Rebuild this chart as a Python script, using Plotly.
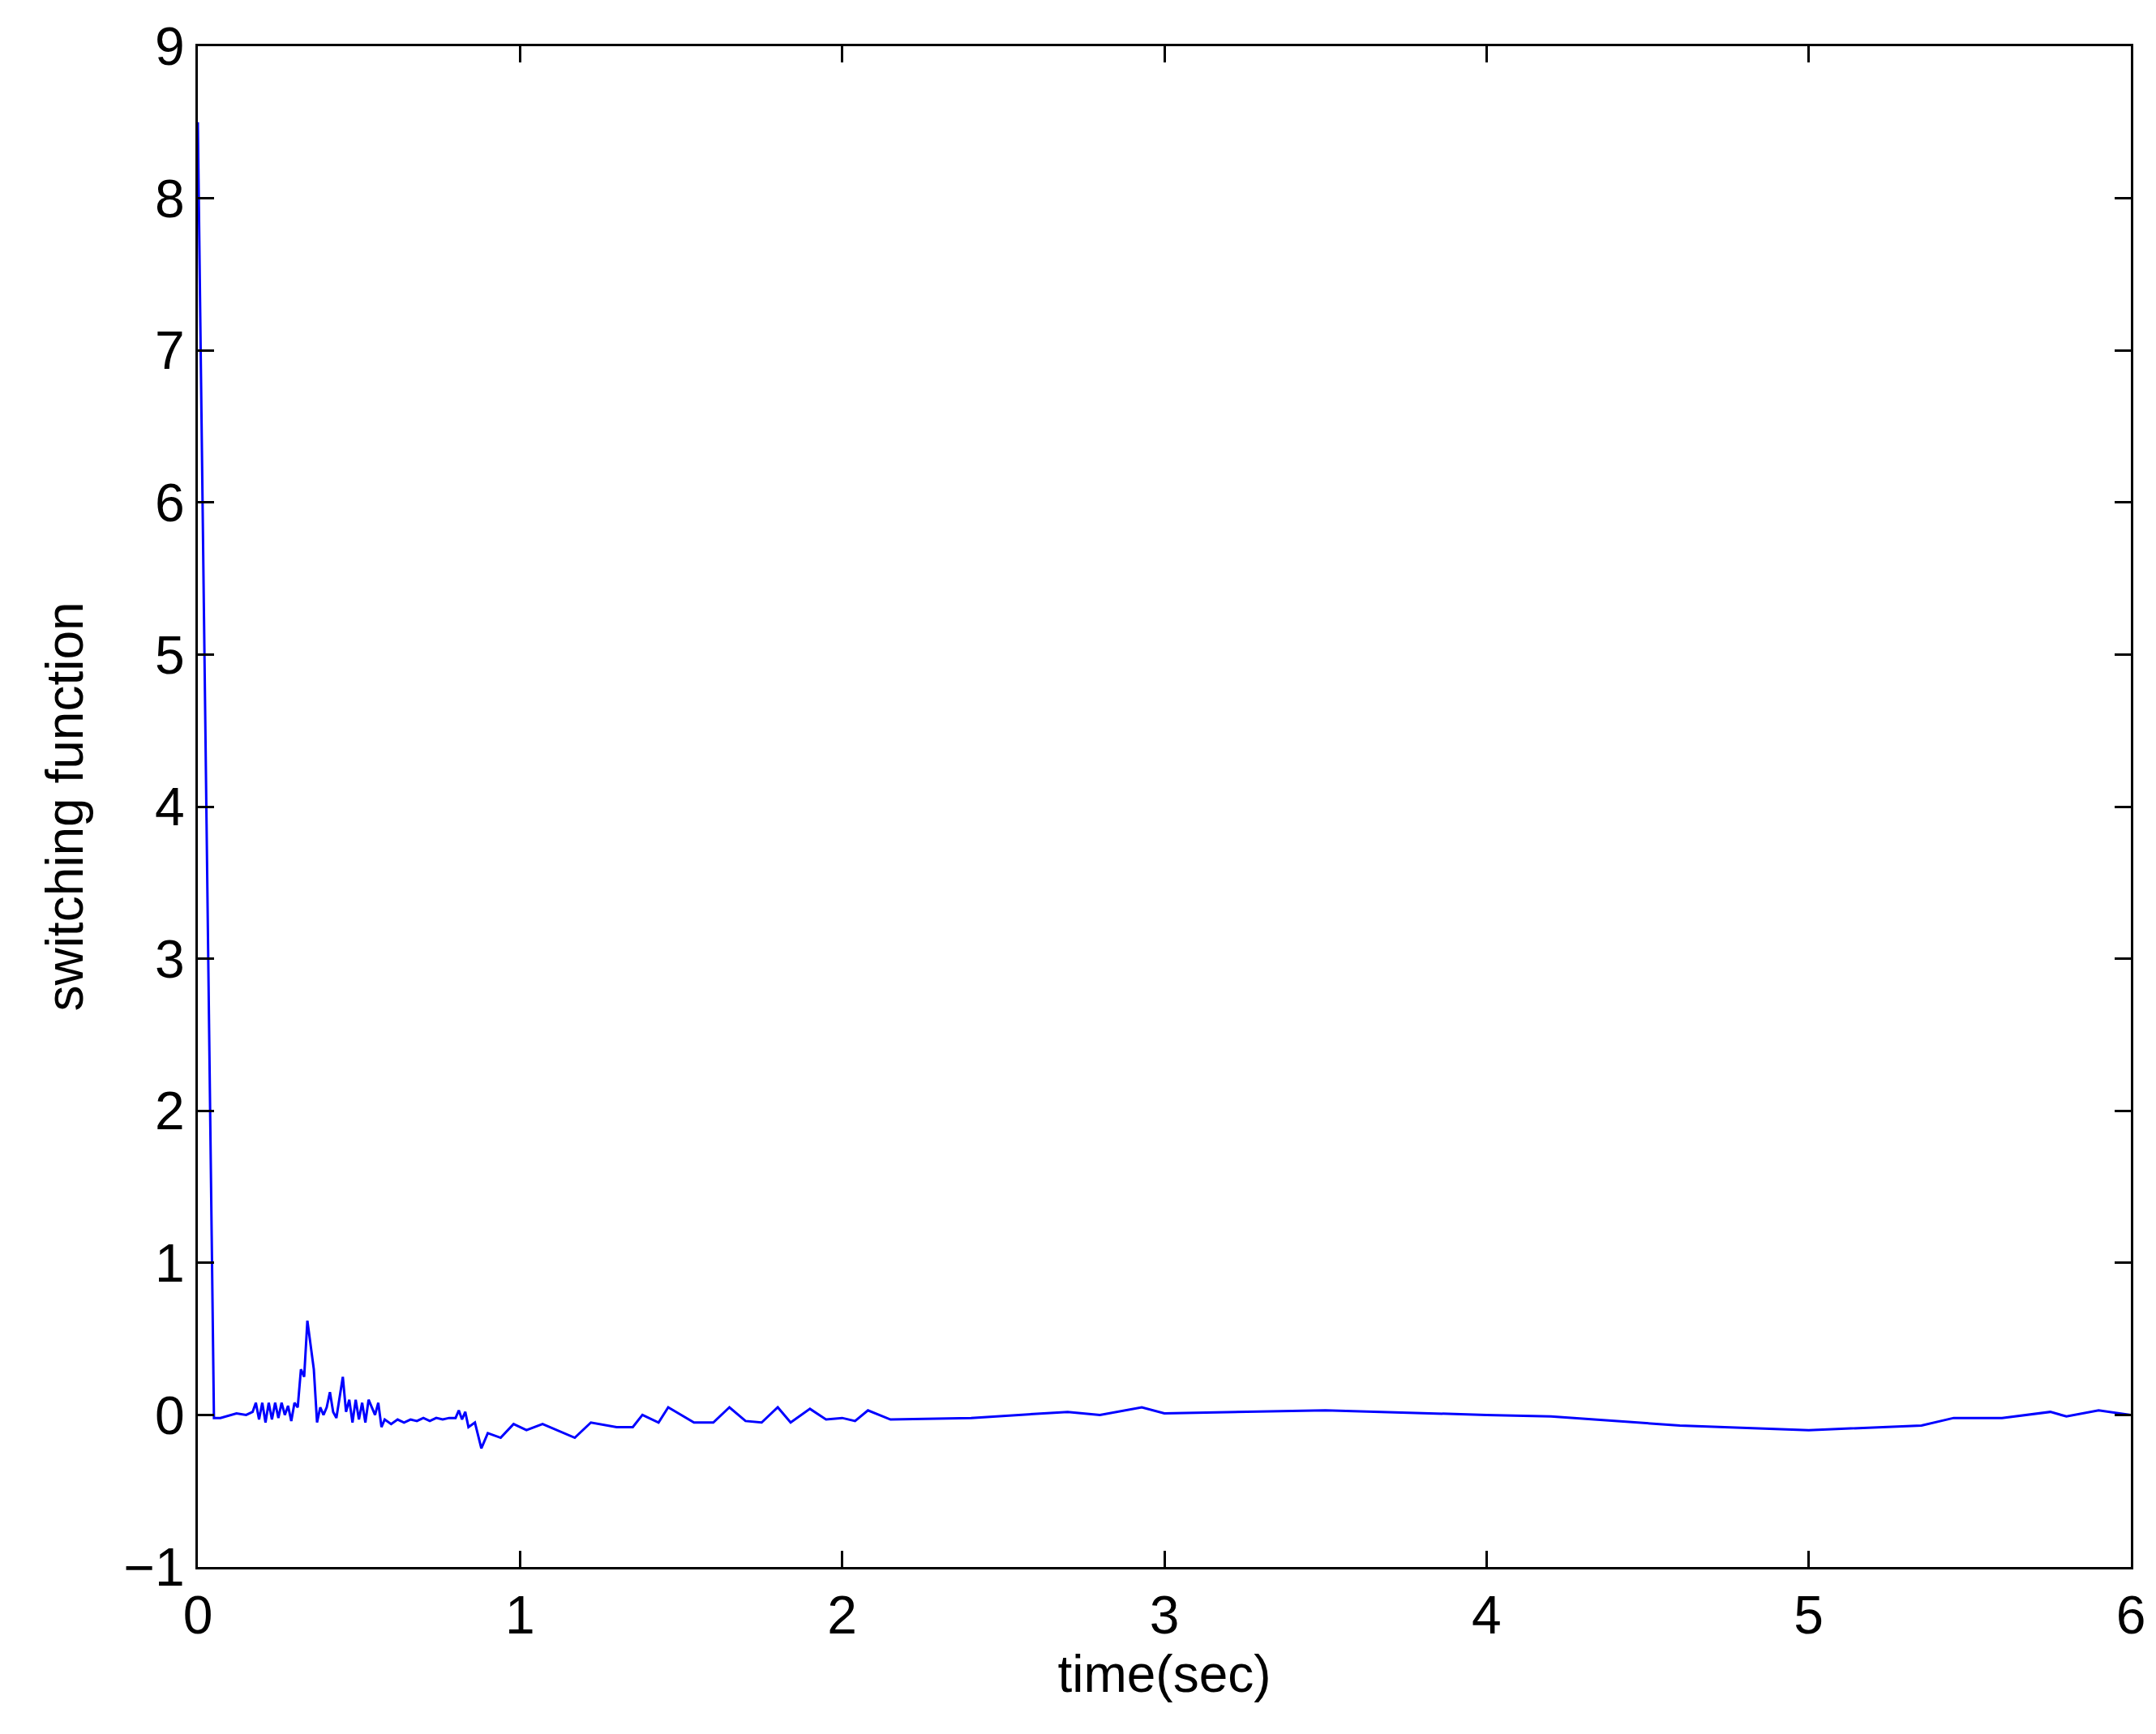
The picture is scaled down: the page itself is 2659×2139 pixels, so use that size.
import plotly.graph_objects as go

t = [0, 0.045, 0.05, 0.07, 0.10, 0.12, 0.15, 0.17, 0.18, 0.19, 0.20, 0.21, 0.22, 0.23, 0.24, 0.25, 0.26, 0.27, 0.28,
     0.29, 0.30, 0.31, 0.32, 0.33, 0.34, 0.36, 0.37, 0.38, 0.39, 0.40, 0.41, 0.42, 0.43, 0.45, 0.46, 0.47, 0.48,
     0.49, 0.50, 0.51, 0.52, 0.53, 0.55, 0.56, 0.57, 0.58, 0.60, 0.62, 0.64, 0.66, 0.68, 0.70, 0.72, 0.74, 0.76,
     0.78, 0.80, 0.81, 0.82, 0.83, 0.84, 0.86, 0.88, 0.90, 0.94, 0.98, 1.02, 1.07, 1.17, 1.22, 1.30, 1.35, 1.38,
     1.43, 1.46, 1.50, 1.54, 1.60, 1.65, 1.70, 1.75, 1.80, 1.84, 1.90, 1.95, 2.00, 2.04, 2.08, 2.15, 2.40, 2.55,
     2.70, 2.80, 2.93, 3.00, 3.50, 4.00, 4.20, 4.60, 5.00, 5.35, 5.45, 5.60, 5.75, 5.80, 5.90, 6.00]
s = [8.5, 1.0, -0.02, -0.02, 0.0, 0.01, 0.0, 0.02, 0.08, -0.03, 0.08, -0.05, 0.08, -0.03, 0.08, -0.02, 0.08, 0.0, 0.06,
     -0.04, 0.08, 0.05, 0.30, 0.25, 0.62, 0.30, -0.05, 0.05, 0.0, 0.05, 0.15, 0.02, -0.02, 0.25, 0.02, 0.10, -0.05,
     0.10, -0.03, 0.08, -0.05, 0.10, 0.0, 0.08, -0.08, -0.03, -0.06, -0.03, -0.05, -0.03, -0.04, -0.02, -0.04, -0.02, -0.03,
     -0.02, -0.02, 0.03, -0.03, 0.02, -0.08, -0.05, -0.22, -0.12, -0.15, -0.06, -0.10, -0.06, -0.15, -0.05, -0.08, -0.08, 0.00,
     -0.05, 0.05, 0.0, -0.05, -0.05, 0.05, -0.04, -0.05, 0.05, -0.05, 0.04, -0.03, -0.02, -0.04, 0.03, -0.03, -0.02, 0.0,
     0.02, 0.0, 0.05, 0.01, 0.03, 0.0, -0.01, -0.07, -0.10, -0.07, -0.02, -0.02, 0.02, -0.01, 0.03, 0.0]

fig = go.Figure(go.Scatter(x=t, y=s, mode="lines", line=dict(color="#0000ff", width=3)))
ax = dict(showgrid=False, zeroline=False, showline=True, linecolor="black", linewidth=3, mirror="ticks",
          ticks="inside", ticklen=20, tickwidth=3, tickcolor="black", tickfont=dict(size=66))
fig.update_xaxes(range=[0, 6], dtick=1, title=dict(text="time(sec)", standoff=8, font=dict(size=64)), **ax)
fig.update_yaxes(range=[-1, 9], dtick=1, title=dict(text="switching function", standoff=30, font=dict(size=64)),
                 tickformat="d", **ax)
fig.update_layout(width=2659, height=2139, margin=dict(l=236, r=39, t=44, b=214),
                  plot_bgcolor="white", paper_bgcolor="white", showlegend=False,
                  font=dict(family="Liberation Sans, Arial", size=64, color="black"))
fig.write_html("out.html")
